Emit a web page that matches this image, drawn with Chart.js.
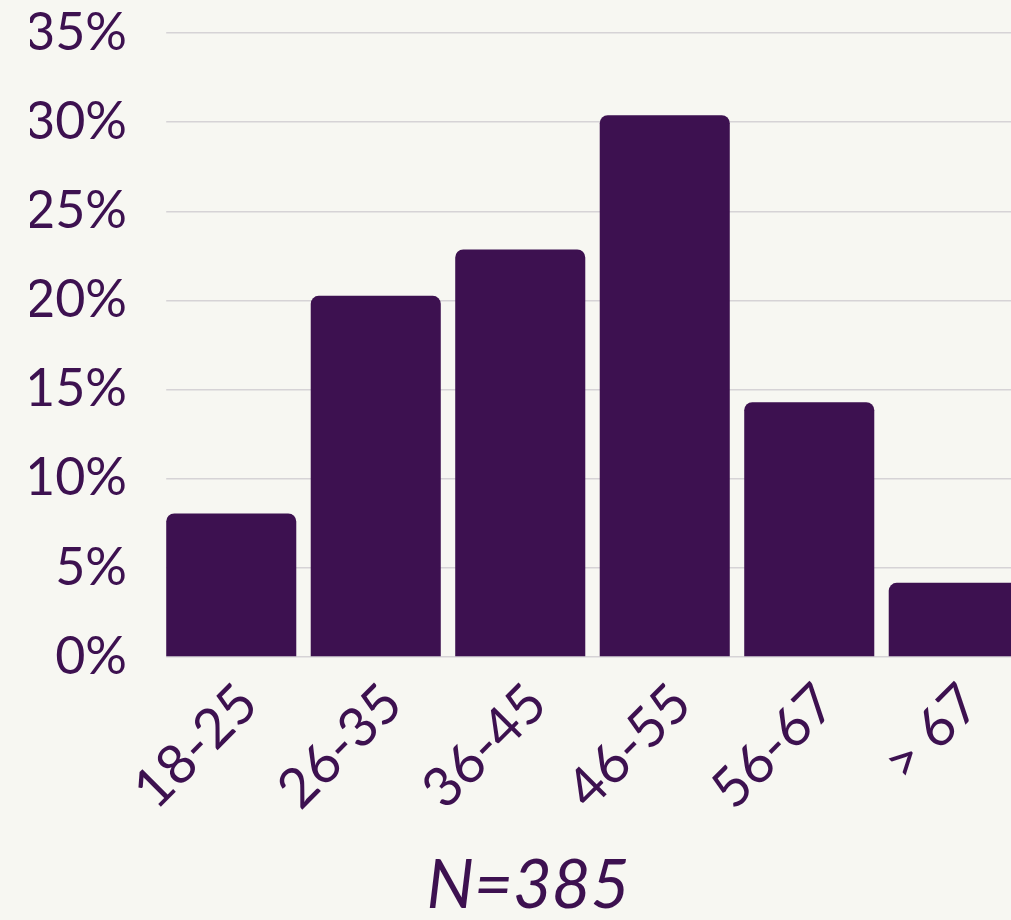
<!DOCTYPE html>
<html>
<head>
<meta charset="utf-8">
<script src="https://cdn.jsdelivr.net/npm/chart.js@4/dist/chart.umd.min.js"></script>
<style>
  html, body { margin: 0; padding: 0; background: #f7f7f2; overflow: hidden; }
  #wrap { position: relative; width: 1030px; height: 920px; }
</style>
</head>
<body>
<div id="wrap"><canvas id="chart"></canvas></div>
<script>
// Datos del gráfico
const categories = ['18-25', '26-35', '36-45', '46-55', '56-67', '> 67'];
const shares = [8.05, 20.26, 22.86, 30.39, 14.29, 4.16];
const yMax = 35;
const yStep = 5;
const sampleLabel = 'N=385';

const ink = '#3d1150';
const bg = '#f7f7f2';

// Tapa el inicio de las líneas de rejilla para que empiecen con la primera barra
const gridStart = {
    id: 'gridStart',
    beforeDatasetsDraw(chart) {
        const { ctx, chartArea } = chart;
        const bar = chart.getDatasetMeta(0).data[0];
        const x0 = bar.x - bar.width / 2;
        ctx.save();
        ctx.fillStyle = bg;
        ctx.fillRect(chartArea.left - 2, chartArea.top - 3, x0 - chartArea.left + 2, chartArea.height + 6);
        ctx.restore();
    }
};

new Chart(document.getElementById('chart'), {
    type: 'bar',
    data: {
        labels: categories,
        datasets: [{
            data: shares,
            backgroundColor: ink,
            borderRadius: 8,
            borderSkipped: 'start',
            barPercentage: 0.9,
            categoryPercentage: 1
        }]
    },
    options: {
        responsive: true,
        maintainAspectRatio: false,
        animation: false,
        layout: { padding: { left: 30, right: 4, top: 33, bottom: 0 } },
        plugins: {
            legend: { display: false },
            tooltip: { enabled: false },
            title: {
                display: true,
                position: 'bottom',
                text: sampleLabel,
                color: ink,
                font: { family: 'Lato', size: 67, style: 'italic', weight: 'normal', lineHeight: 1 },
                padding: 0
            }
        },
        scales: {
            x: {
                grid: { display: false },
                border: { display: false },
                ticks: {
                    color: ink,
                    font: { family: 'Lato', size: 55 },
                    minRotation: 45,
                    maxRotation: 45,
                    padding: 6,
                    labelOffset: 17
                },
                afterFit(scale) { scale.height = 196; }
            },
            y: {
                min: 0,
                max: yMax,
                border: { display: false },
                grid: { color: '#d6d3d6', lineWidth: 1.5, drawTicks: false },
                ticks: {
                    stepSize: yStep,
                    color: ink,
                    font: { family: 'Lato', size: 52 },
                    padding: 32,
                    callback: v => v + '%'
                },
                afterFit(scale) {
                    scale.width = 129;
                    scale.paddingTop = 0;
                    scale.paddingBottom = 0;
                }
            }
        }
    },
    plugins: [gridStart]
});
</script>
</body>
</html>
